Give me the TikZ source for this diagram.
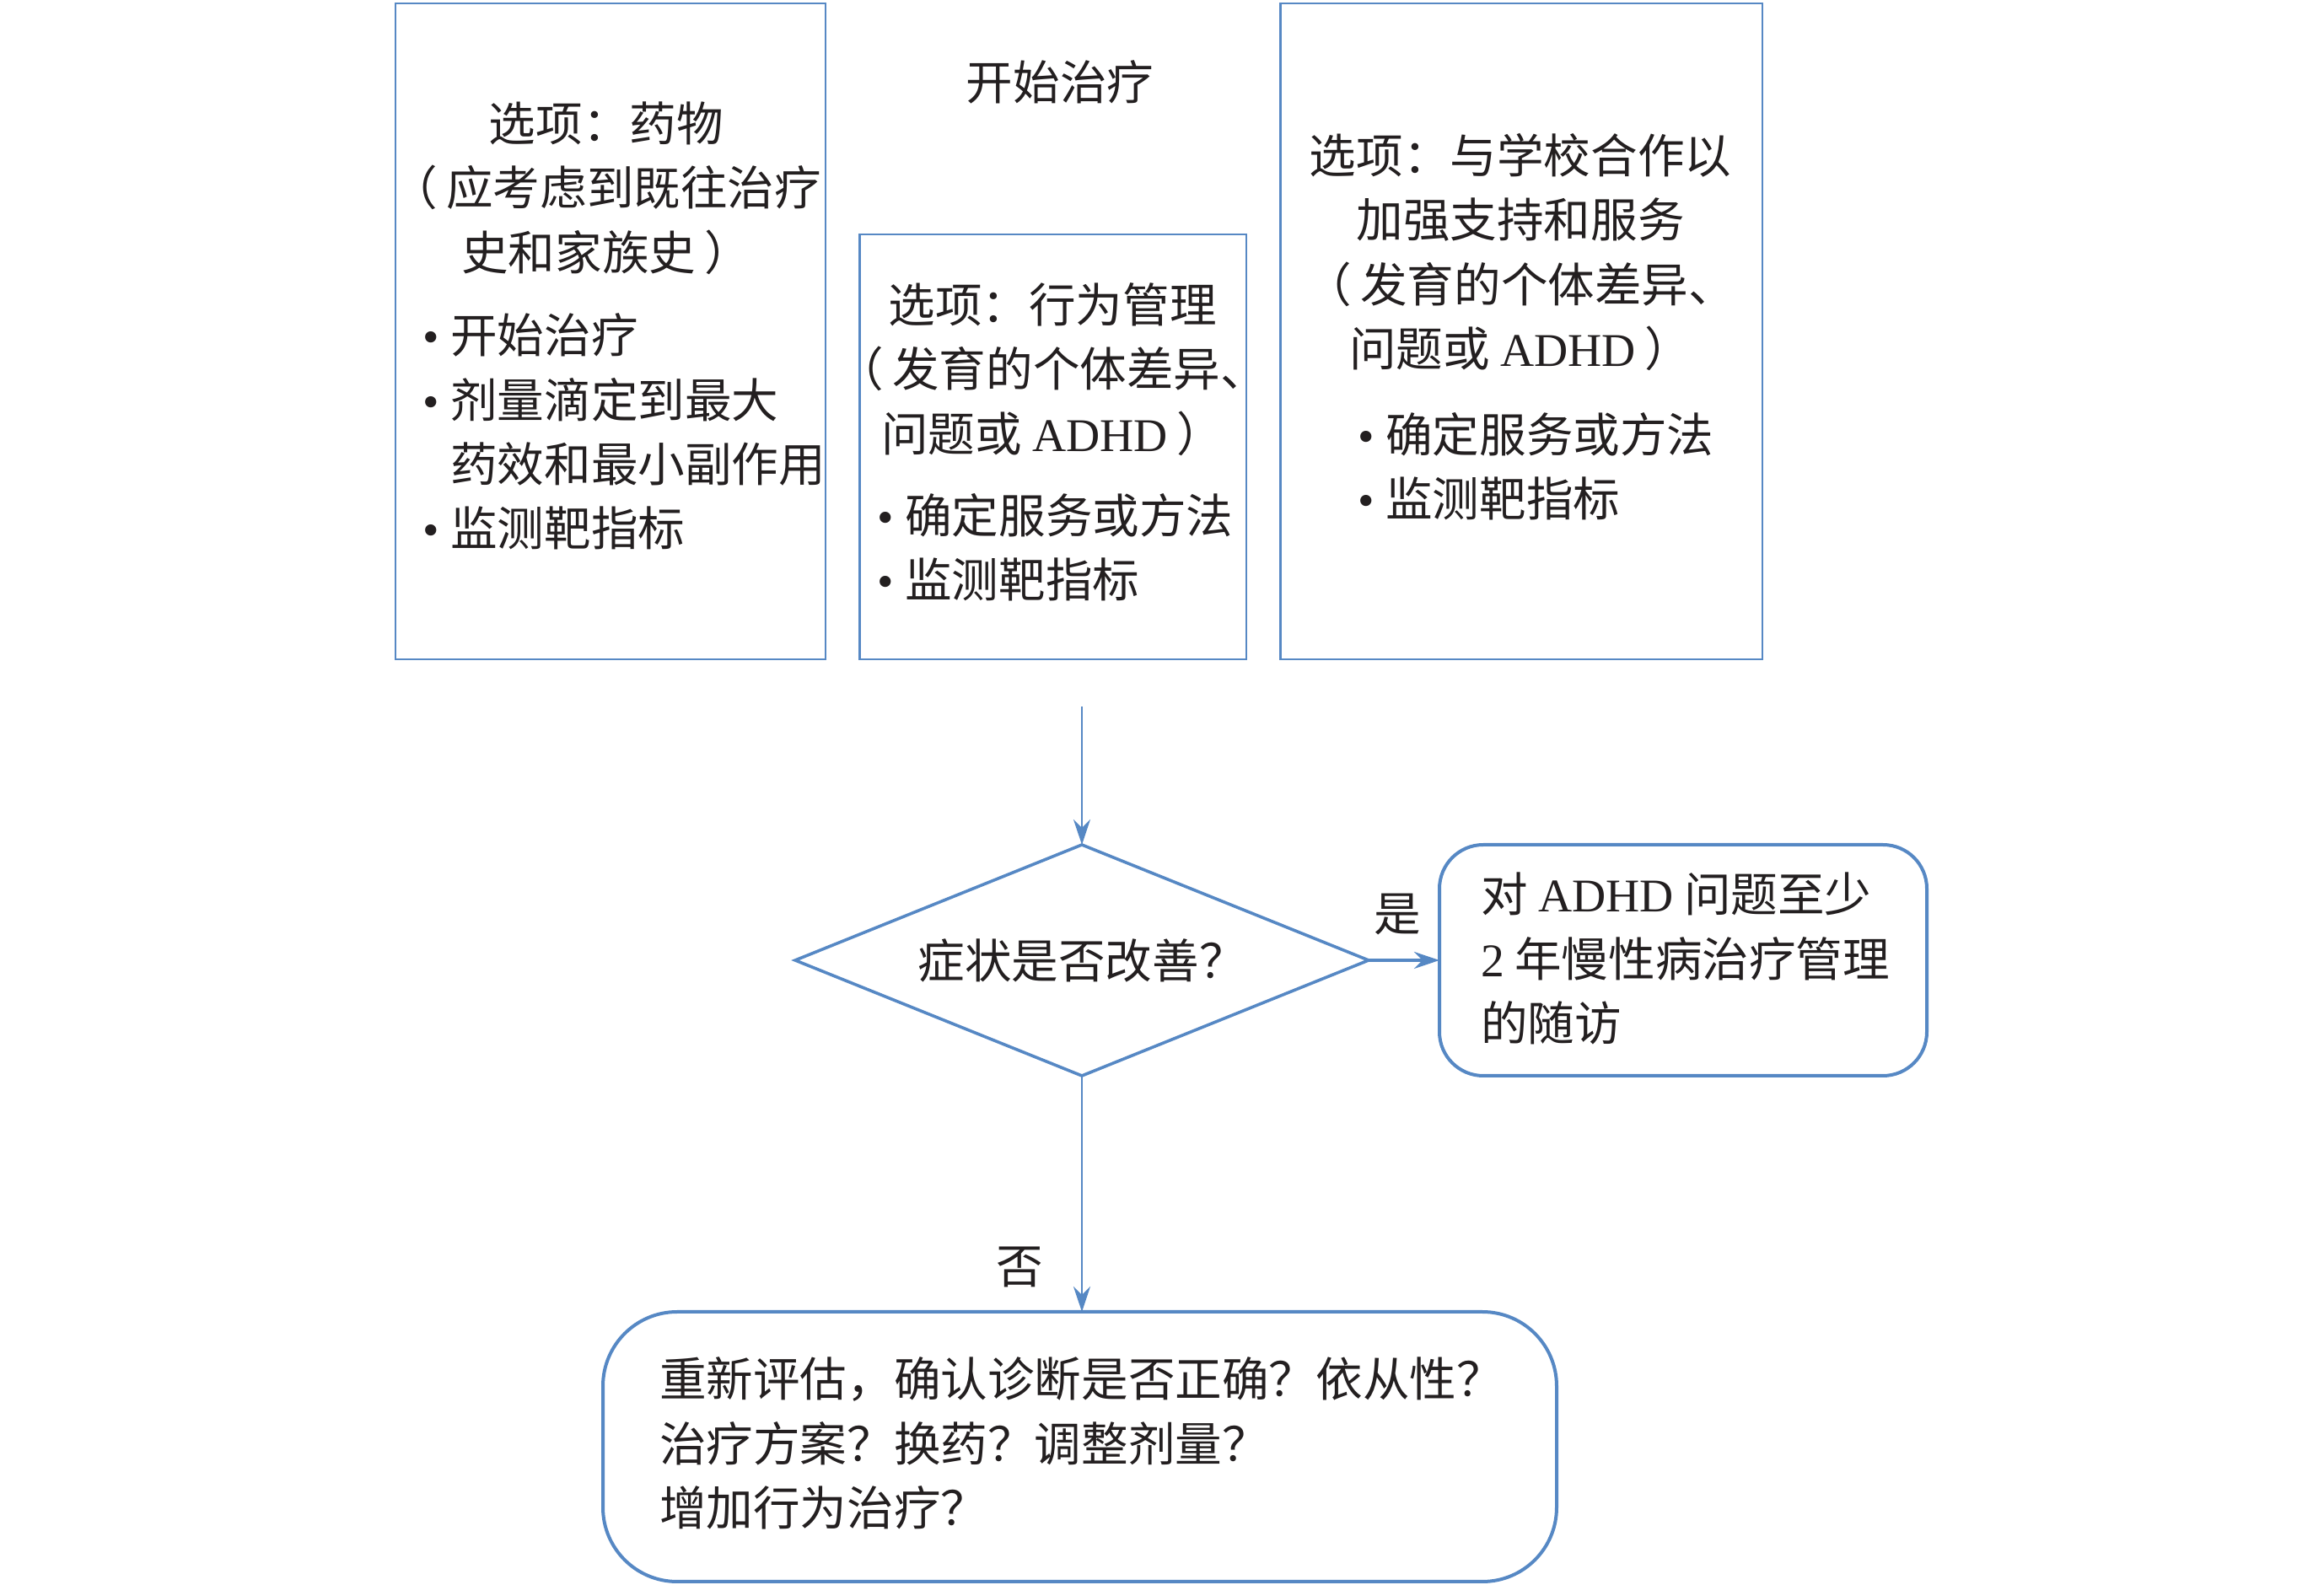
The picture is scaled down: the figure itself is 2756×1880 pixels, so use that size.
\documentclass[tikz,border=0pt]{standalone}
\usepackage{fontspec}
\setmainfont{Noto Sans CJK SC}
\newfontfamily\latfont{Liberation Serif}
\newcommand\lat[1]{{\latfont #1}}
\usetikzlibrary{shapes.geometric,arrows.meta}
\definecolor{lineblue}{RGB}{86,136,196}
\definecolor{ink}{RGB}{35,31,32}
\newcommand\itm{\makebox[8.3pt][l]{\latfont •}}
\newcommand\ind{\hspace*{8.3pt}}
\newcommand\lp{（\hspace{2.5pt}}
\newcommand\rp{\hspace{2.5pt}）}
\begin{document}
\begin{tikzpicture}[x=0.25pt,y=-0.25pt,
  every node/.style={font=\fontsize{13.9pt}{19.1pt}\selectfont, text=ink, inner sep=0pt, outer sep=0pt},
  optbox/.style={draw=lineblue, line width=0.6pt, rectangle},
  roundbox/.style={draw=lineblue, line width=1pt, rectangle},
  decision/.style={draw=lineblue, line width=0.9pt, diamond, shape aspect=2.48},
  conn/.style={draw=lineblue, line width=0.6pt, -{Stealth[length=7.5pt,width=5pt]}},
  lbl/.style={align=left, anchor=west},
  ctr/.style={align=center}
]
\useasboundingbox (0,0) rectangle (2756,1880);

% top boxes
\node[optbox, minimum width=127.5pt, minimum height=194.6pt] (med) at (724,393) {};
\node[optbox, minimum width=114.6pt, minimum height=126pt] (beh) at (1248.8,530) {};
\node[optbox, minimum width=142.9pt, minimum height=194.6pt] (sch) at (1804.3,393) {};

\node (title) at (1257,97) {开始治疗};

\node[ctr] (medh) at (719,223) {选项：药物\\\lp 应考虑到既往治疗\\史和家族史\rp};
\node[lbl] (medl) at (501,512) {\itm 开始治疗\\\itm 剂量滴定到最大\\\ind 药效和最小副作用\\\itm 监测靶指标};

\node[ctr] (behh) at (1248,438) {选项：行为管理\\\lp 发育的个体差异、\\问题或 \lat{ADHD}\rp};
\node[lbl] (behl) at (1040,649.5) {\itm 确定服务或方法\\\itm 监测靶指标};

\node[ctr] (schh) at (1803,299) {选项：与学校合作以\\加强支持和服务\\\lp 发育的个体差异、\\问题或 \lat{ADHD}\rp};
\node[lbl] (schl) at (1610,553) {\itm 确定服务或方法\\\itm 监测靶指标};

% decision
\coordinate (start) at (1283,838);
\node[decision, minimum width=170pt, minimum height=68.5pt] (dia) at (1283,1139) {症状是否改善？};

% follow-up box
\node[roundbox, rounded corners=13pt, minimum width=144.5pt, minimum height=68.5pt] (fu) at (1996,1139) {};
\node[lbl] (fut) at (1756,1137) {对 \lat{ADHD} 问题至少\\\lat{2} 年慢性病治疗管理\\的随访};

% reevaluation box
\node[roundbox, rounded corners=22pt, minimum width=282.75pt, minimum height=80pt] (re) at (1280.5,1716) {};
\node[lbl] (ret) at (782,1712) {重新评估，确认诊断是否正确？依从性？\\治疗方案？换药？调整剂量？\\增加行为治疗？};

% connectors
\draw[conn] (start) -- (dia.north);
\draw[conn, line width=1pt] (dia.east) -- (fu.west);
\draw[conn] (dia.south) -- (dia.south |- re.north);

\node (yes) at (1657,1085) {是};
\node (no) at (1209,1503) {否};
\end{tikzpicture}
\end{document}
